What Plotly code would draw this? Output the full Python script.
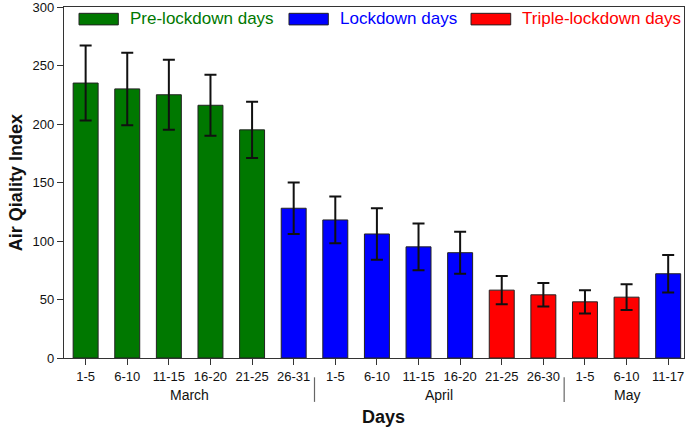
import plotly.graph_objects as go

day_labels = ["1-5", "6-10", "11-15", "16-20", "21-25", "26-31",
              "1-5", "6-10", "11-15", "16-20", "21-25", "26-30",
              "1-5", "6-10", "11-17"]
aqi_values = [235, 230, 225, 216, 195, 128, 118, 106, 95, 90, 58, 54, 48, 52, 72]
aqi_errors = [32, 31, 30, 26, 24, 22, 20, 22, 20, 18, 12, 10, 10, 11, 16]
phases = ["Pre-lockdown days"] * 5 + ["Lockdown days"] * 5 + ["Triple-lockdown days"] * 4 + ["Lockdown days"]
months = ["March"] * 6 + ["April"] * 6 + ["May"] * 3

phase_colors = {"Pre-lockdown days": "#007800",
                "Lockdown days": "#0000FF",
                "Triple-lockdown days": "#FF0000"}
phase_order = ["Pre-lockdown days", "Lockdown days", "Triple-lockdown days"]

FONT = "Liberation Sans, Arial, sans-serif"
xs = list(range(len(aqi_values)))

fig = go.Figure()
fig.add_trace(go.Bar(
    x=xs, y=aqi_values,
    marker=dict(color=[phase_colors[p] for p in phases],
                line=dict(color="#222222", width=1)),
    width=0.6,
    error_y=dict(type="data", array=aqi_errors, visible=True,
                 color="#111111", thickness=2, width=6),
    showlegend=False,
))

# month group labels and separators
month_names = []
for m in months:
    if m not in month_names:
        month_names.append(m)
annotations = []
shapes = []
for m in month_names:
    idx = [i for i, mm in enumerate(months) if mm == m]
    center = sum(idx) / len(idx)
    annotations.append(dict(x=center, y=-0.105, xref="x", yref="paper",
                            text=m, showarrow=False, yanchor="middle",
                            font=dict(family=FONT, size=14, color="#111111")))
for i in range(1, len(months)):
    if months[i] != months[i - 1]:
        shapes.append(dict(type="line", xref="x", yref="paper",
                           x0=i - 0.5, x1=i - 0.5, y0=-0.055, y1=-0.125,
                           line=dict(color="#666666", width=1.2)))

# axis titles
annotations.append(dict(x=0.515, y=-0.168, xref="paper", yref="paper",
                        text="<b>Days</b>", showarrow=False, yanchor="middle",
                        font=dict(family=FONT, size=18, color="#111111")))
annotations.append(dict(x=-0.078, y=0.5, xref="paper", yref="paper",
                        text="<b>Air Qiality Index</b>", showarrow=False,
                        textangle=-90, xanchor="center", yanchor="middle",
                        font=dict(family=FONT, size=18, color="#111111")))

# custom legend (wide swatches, coloured text)
legend_pos = [(0.0242, 0.0876), (0.3629, 0.4263), (0.6565, 0.7205)]
for name, (x0, x1) in zip(phase_order, legend_pos):
    shapes.append(dict(type="rect", xref="paper", yref="paper",
                       x0=x0, x1=x1, y0=0.949, y1=0.982,
                       fillcolor=phase_colors[name],
                       line=dict(color="#222222", width=1)))
    annotations.append(dict(x=x1 + 0.015, y=0.966, xref="paper", yref="paper",
                            text=name, showarrow=False, xanchor="left",
                            yanchor="middle",
                            font=dict(family=FONT, size=17,
                                      color=phase_colors[name])))

fig.update_layout(
    width=693, height=430,
    margin=dict(l=64, r=9, t=7, b=72),
    paper_bgcolor="white", plot_bgcolor="white",
    font=dict(family=FONT, size=13, color="#111111"),
    bargap=0.4,
    xaxis=dict(range=[-0.52, 14.38], tickmode="array", tickvals=xs,
               ticktext=day_labels, ticks="outside", ticklen=6,
               tickcolor="#333333", showline=True, linecolor="#333333",
               linewidth=1.3, mirror=True, showgrid=False, zeroline=False,
               automargin=False, ticklabeloverflow="allow",
               tickfont=dict(family=FONT, size=13, color="#111111")),
    yaxis=dict(range=[0, 300], tickmode="linear", tick0=0, dtick=50,
               ticks="outside", ticklen=6, tickcolor="#333333",
               showline=True, linecolor="#333333", linewidth=1.3,
               mirror=True, showgrid=False, zeroline=False,
               automargin=False, ticklabeloverflow="allow",
               tickfont=dict(family=FONT, size=13, color="#111111")),
    annotations=annotations,
    shapes=shapes,
)

fig.write_html("out.html",
               config={"displayModeBar": False},
               post_script="document.body.style.margin='0';document.body.style.overflow='hidden';")
